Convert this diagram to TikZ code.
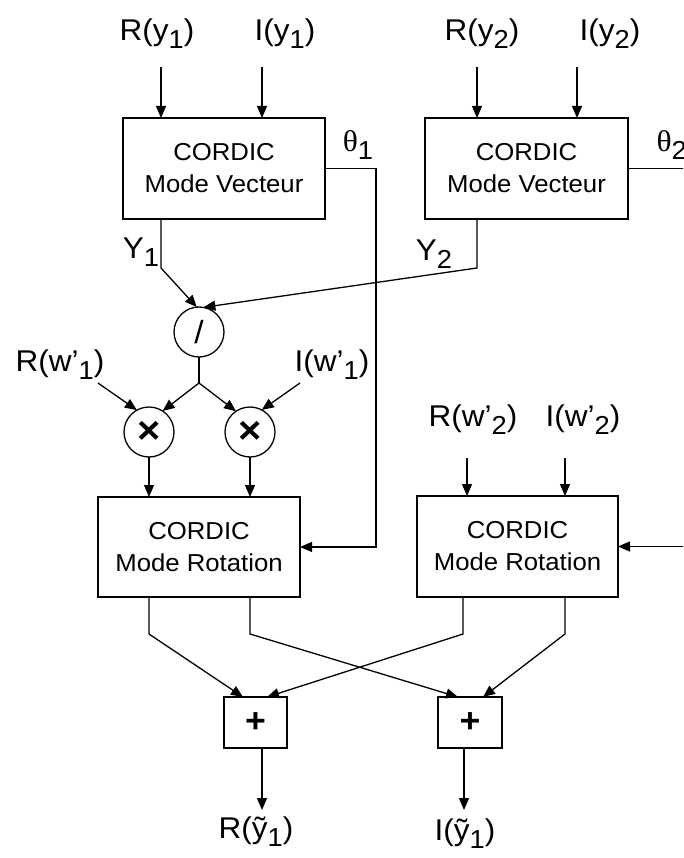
\documentclass[tikz,border=0pt]{standalone}
\usepackage{fontspec}
\setmainfont{Liberation Sans}[FakeStretch=1.05]
\newfontfamily\grk{Liberation Serif}[FakeStretch=1.05]
\usetikzlibrary{arrows.meta,calc}
\newcommand\sbs[1]{\raisebox{-8pt}{\fontsize{26}{26}\selectfont #1}}
\begin{document}
\begin{tikzpicture}[x=1pt,y=-1pt,line width=1.3pt,
  arr/.style={-{Triangle[length=12pt,width=10pt]}},
  blk/.style={draw,inner sep=0pt,outer sep=0pt,align=center,font=\fontsize{24.5}{32}\selectfont},
  lbl/.style={inner sep=0pt,font=\fontsize{30}{30}\selectfont},
  op/.style={draw,circle,inner sep=0pt,outer sep=0pt,minimum size=50pt},
  addb/.style={draw,inner sep=0pt,outer sep=0pt,minimum width=63pt,minimum height=51pt,font=\fontsize{34}{34}\selectfont\bfseries}]
\useasboundingbox (0,0) rectangle (683,858);
\clip (0,0) rectangle (683,858);
% blocks
\node[blk,minimum width=202pt,minimum height=101pt] (v1) at (224,168.5) {CORDIC\\Mode Vecteur};
\node[blk,minimum width=203pt,minimum height=101pt] (v2) at (526.5,168.5) {CORDIC\\Mode Vecteur};
\node[blk,minimum width=202pt,minimum height=100pt] (r1) at (199,547) {CORDIC\\Mode Rotation};
\node[blk,minimum width=201pt,minimum height=101pt] (r2) at (517.5,546.5) {CORDIC\\Mode Rotation};
\node[op] (div) at (199,332) {\fontsize{32}{32}\selectfont /};
\node[op] (m1) at (149,432) {\fontsize{38}{38}\selectfont\bfseries ×};
\node[op] (m2) at (250,432) {\fontsize{38}{38}\selectfont\bfseries ×};
\node[addb] (a1) at (255.5,722.5) {+};
\node[addb,minimum width=64pt] (a2) at (470,722.5) {+};
% labels
\node[lbl] (ry1) at (157,34) {R(y\sbs{1})};
\node[lbl] (iy1) at (285,34) {I(y\sbs{1})};
\node[lbl] (ry2) at (482,34) {R(y\sbs{2})};
\node[lbl] (iy2) at (610,34) {I(y\sbs{2})};
\node[lbl] (th1) at (358,145) {{\grk θ}\sbs{1}};
\node[lbl,anchor=west] (th2) at (656,145) {{\grk θ}\sbs{2}};
\node[lbl] (Y1) at (141,252) {Y\sbs{1}};
\node[lbl] (Y2) at (434,254) {Y\sbs{2}};
\node[lbl] (rw1) at (60,365) {R(w’\sbs{1})};
\node[lbl] (iw1) at (332,365) {I(w’\sbs{1})};
\node[lbl] (rw2) at (473,420) {R(w’\sbs{2})};
\node[lbl] (iw2) at (583,420) {I(w’\sbs{2})};
\node[lbl] (ro) at (256,832) {R(ỹ\sbs{1})};
\node[lbl] (io) at (465,834) {I(ỹ\sbs{1})};
% coordinates
\coordinate (c1) at (161,67);
\coordinate (c2) at (262,67);
\coordinate (c3) at (477,67);
\coordinate (c4) at (577,67);
\coordinate (y1k) at (161,268);
\coordinate (y2k) at (477,268);
\coordinate (sp) at (199,383);
\coordinate (w1s) at (98,383);
\coordinate (w2s) at (300,383);
\coordinate (w3s) at (467,458);
\coordinate (w4s) at (565,458);
\coordinate (tx) at (376,0);
\coordinate (edge) at (684,0);
\coordinate (k1) at (149,634);
\coordinate (k2) at (250,634);
\coordinate (k3) at (463,634);
\coordinate (k4) at (565,634);
% inputs
\draw[arr] (c1) -- (c1 |- v1.north);
\draw[arr] (c2) -- (c2 |- v1.north);
\draw[arr] (c3) -- (c3 |- v2.north);
\draw[arr] (c4) -- (c4 |- v2.north);
% Y outputs
\draw[arr] (y1k |- v1.south) -- (y1k) -- (div.95);
\draw[arr] (y2k |- v2.south) -- (y2k) -- (div.80);
% split
\draw (div.south) -- (sp);
\draw[arr] (sp) -- (m1.57);
\draw[arr] (sp) -- (m2.124);
\draw[arr] (w1s) -- (m1.119);
\draw[arr] (w2s) -- (m2.62);
\draw[arr] (m1.south) -- (m1.south |- r1.north);
\draw[arr] (m2.south) -- (m2.south |- r1.north);
\draw[arr] (w3s) -- (w3s |- r2.north);
\draw[arr] (w4s) -- (w4s |- r2.north);
% theta
\draw[arr] (v1.east) -| (tx |- r1.east) -- (r1.east);
\draw (v2.east) -- (v2.east -| edge);
\draw[arr] (edge |- r2.east) -- (r2.east);
% bottom
\draw[arr] (k1 |- r1.south) -- (k1) -- ($(a1.north)+(-12.5,0)$);
\draw[arr] (k2 |- r1.south) -- (k2) -- ($(a2.north)+(-12,0)$);
\draw[arr] (k3 |- r2.south) -- (k3) -- ($(a1.north)+(11.5,0)$);
\draw[arr] (k4 |- r2.south) -- (k4) -- ($(a2.north)+(13,0)$);
\draw[arr] ($(a1.south)+(6.5,0)$) -- ($(a1.south)+(6.5,62)$);
\draw[arr] ($(a2.south)+(-6,0)$) -- ($(a2.south)+(-6,62)$);
\end{tikzpicture}
\end{document}
